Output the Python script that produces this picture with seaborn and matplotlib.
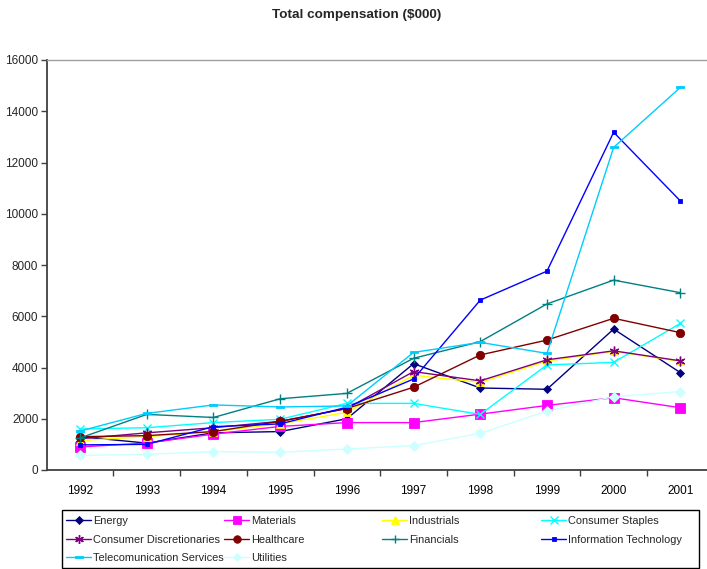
import matplotlib
matplotlib.use("Agg")
import matplotlib.pyplot as plt
from matplotlib.patches import Rectangle
from matplotlib.ticker import FixedLocator, NullFormatter
import seaborn as sns

# Total compensation by sector ($000), 1992-2001
years = [1992, 1993, 1994, 1995, 1996, 1997, 1998, 1999, 2000, 2001]

energy = [1300, 1050, 1450, 1500, 2000, 4150, 3200, 3150, 5500, 3800]
materials = [900, 1050, 1400, 1700, 1850, 1850, 2180, 2520, 2820, 2430]
industrials = [1150, 1300, 1500, 1800, 2250, 3700, 3420, 4250, 4630, 4240]
consumer_staples = [1600, 1650, 1850, 1980, 2600, 2600, 2170, 4100, 4200, 5720]
consumer_discretionaries = [1220, 1450, 1650, 1900, 2400, 3840, 3480, 4300, 4650, 4260]
healthcare = [1300, 1340, 1500, 1900, 2400, 3230, 4490, 5070, 5920, 5360]
financials = [1250, 2170, 2050, 2780, 2990, 4360, 5010, 6480, 7410, 6920]
information_technology = [980, 1000, 1690, 1800, 2450, 3550, 6630, 7760, 13180, 10500]
telecom_services = [1520, 2210, 2540, 2460, 2500, 4590, 4980, 4550, 12590, 14930]
utilities = [570, 610, 720, 690, 820, 950, 1430, 2300, 2860, 3060]

y_ticks = [0, 2000, 4000, 6000, 8000, 10000, 12000, 14000, 16000]

dash_marker = [(-1, -0.32), (1, -0.32), (1, 0.32), (-1, 0.32), (-1, -0.32)]

series = [
    ("Energy", energy, "#000080", "D", 4.2),
    ("Materials", materials, "#FF00FF", "s", 6.5),
    ("Industrials", industrials, "#FFFF00", "^", 6.0),
    ("Consumer Staples", consumer_staples, "#00FFFF", "x", 6.0),
    ("Consumer Discretionaries", consumer_discretionaries, "#800080", (6, 2, 0), 7.0),
    ("Healthcare", healthcare, "#800000", "o", 6.0),
    ("Financials", financials, "#008080", "+", 7.0),
    ("Information Technology", information_technology, "#0000FF", "s", 3.5),
    ("Telecomunication Services", telecom_services, "#00CCFF", dash_marker, 6.0),
    ("Utilities", utilities, "#CCFFFF", "D", 4.8),
]

sns.set_theme(style="white")
plt.rcParams["font.family"] = ["Liberation Sans", "DejaVu Sans"]

fig = plt.figure(figsize=(7.07, 5.69), dpi=100)
W, H = 707, 569
ax = fig.add_axes([46.7 / W, 1 - 470 / H, 667 / W, 410 / H])

handles = {}
for name, vals, color, marker, ms in series:
    filled = marker not in ("x", "+") and not isinstance(marker, tuple)
    sns.lineplot(
        x=years, y=vals, ax=ax, color=color, marker=marker, markersize=ms,
        linewidth=1.0, markeredgewidth=1.0 if not filled else 0.6,
        markeredgecolor=color, markerfacecolor=color, legend=False,
    )
    handles[name] = ax.lines[-1]

ax.set_xlim(1991.5, 2001.5)
ax.set_ylim(0, 16000)
ax.set_xticks(years)
ax.set_xticklabels([str(y) for y in years])
ax.xaxis.set_minor_locator(FixedLocator([y + 0.5 for y in years[:-1]]))
ax.xaxis.set_minor_formatter(NullFormatter())
ax.tick_params(axis="x", which="major", length=0, pad=11, labelsize=8.5, colors="black")
ax.tick_params(axis="x", which="minor", length=4, width=1, color="#404040", direction="out", bottom=True)
ax.set_yticks(y_ticks)
ax.set_yticklabels([str(v) for v in y_ticks])
ax.tick_params(axis="y", length=4, width=1, color="#404040", direction="out", pad=2, labelsize=8.5, left=True)
ax.set_xlabel("")
ax.set_ylabel("")
ax.grid(False)

for side in ("left", "bottom"):
    ax.spines[side].set_color("#404040")
    ax.spines[side].set_linewidth(1.3)
ax.spines["top"].set_color("#A0A0A0")
ax.spines["top"].set_linewidth(1.0)
ax.spines["right"].set_visible(False)

fig.text(357 / W, 1 - 15 / H, "Total compensation ($000)", ha="center", va="center",
         fontsize=9.7, fontweight="bold")

# Legend frame and four equally spaced columns
fig.add_artist(Rectangle((62 / W, 1 - 568 / H), 637 / W, 58 / H, transform=fig.transFigure,
                         fill=False, edgecolor="black", linewidth=1.0))
columns = [
    (["Energy", "Consumer Discretionaries", "Telecomunication Services"], 66),
    (["Materials", "Healthcare", "Utilities"], 224),
    (["Industrials", "Financials"], 382),
    (["Consumer Staples", "Information Technology"], 541),
]
for names, x0 in columns:
    leg = fig.legend([handles[n] for n in names], names, loc="upper left",
                     bbox_to_anchor=(x0 / W, 1 - 516 / H), frameon=False,
                     fontsize=7.9, handlelength=2.3, handletextpad=0.15,
                     labelspacing=0.78, borderpad=0, borderaxespad=0, markerscale=0.9)

fig.savefig("out.png", dpi=100)
